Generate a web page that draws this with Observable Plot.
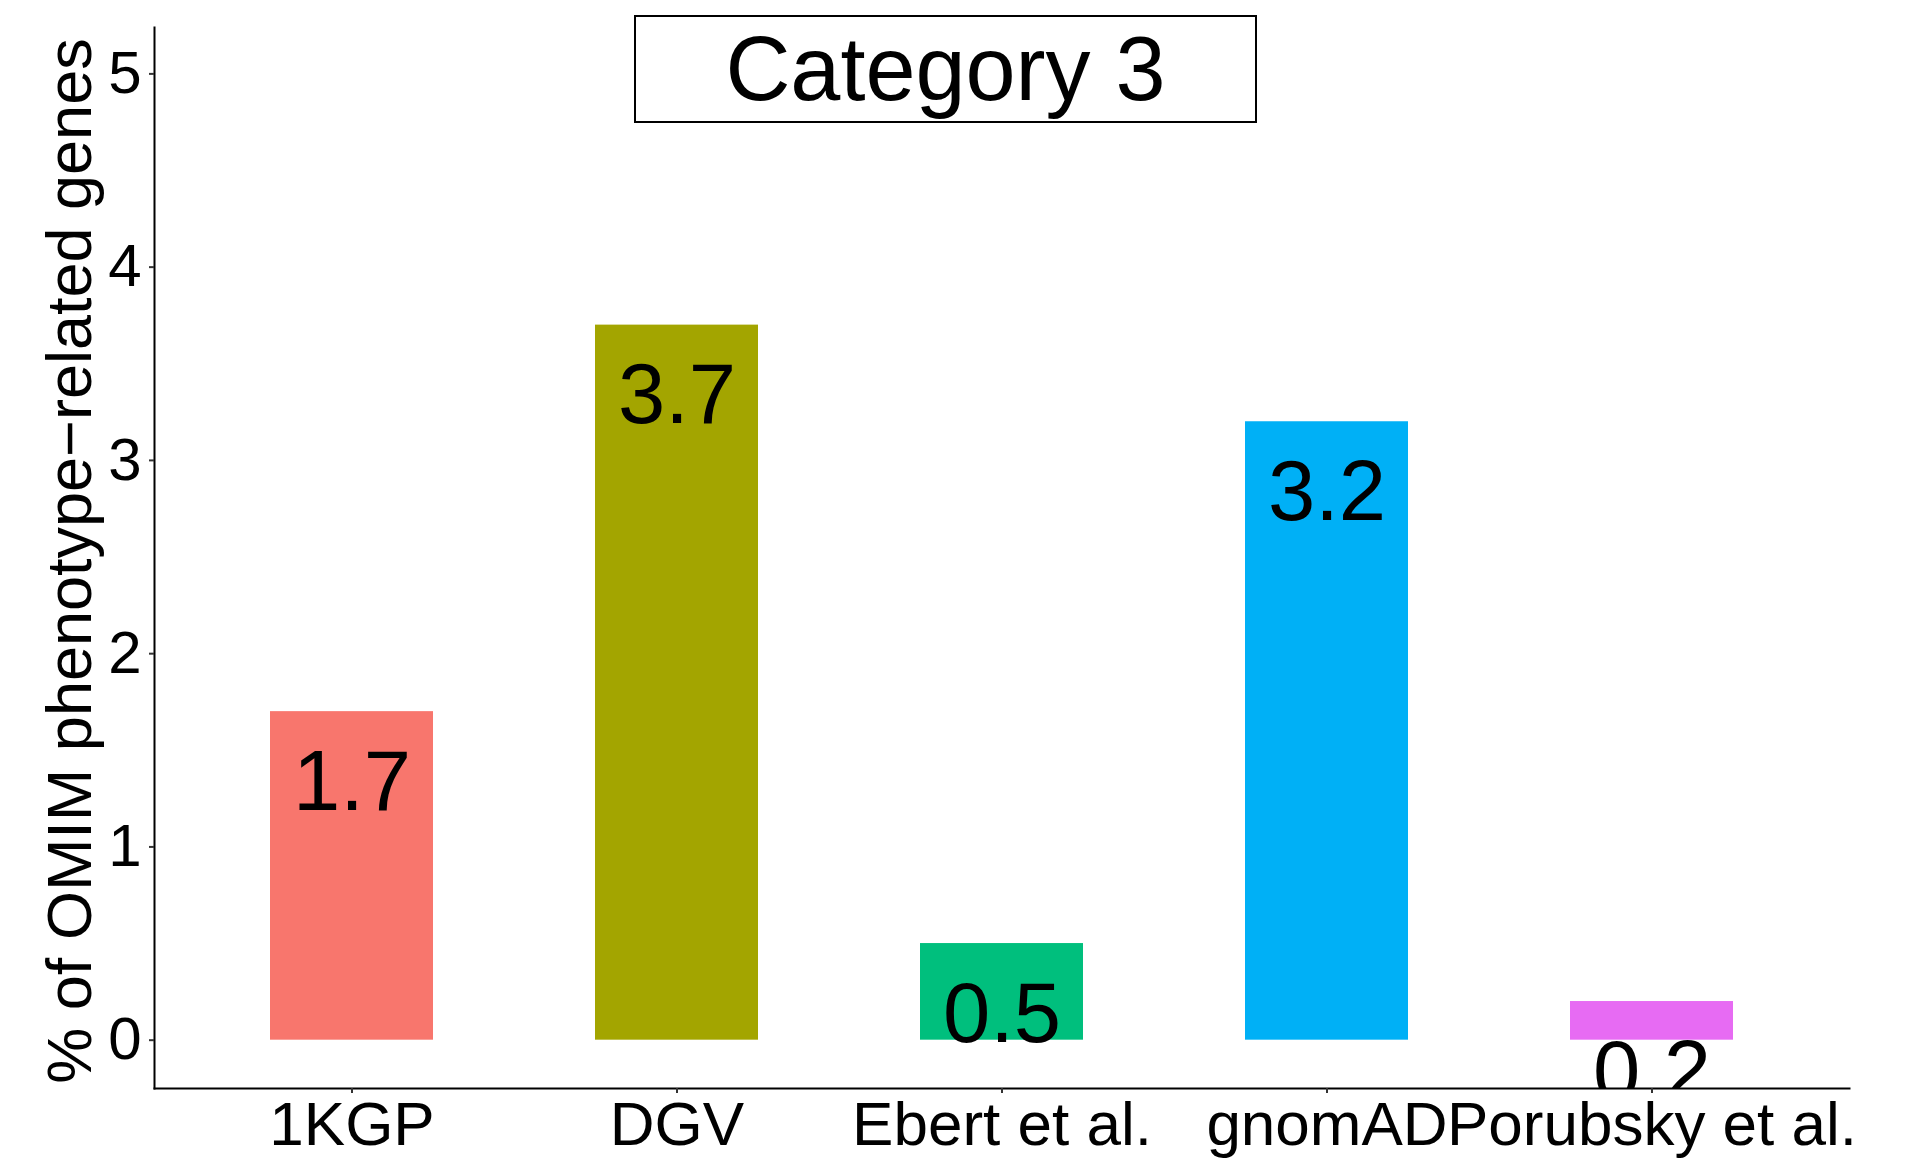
<!DOCTYPE html>
<html>
<head>
<meta charset="utf-8">
<script src="https://cdn.jsdelivr.net/npm/d3@7"></script>
<script src="https://cdn.jsdelivr.net/npm/@observablehq/plot@0.6"></script>
<style>
  html, body { margin: 0; padding: 0; background: #fff; }
  #wrap { position: relative; width: 1905px; height: 1167px; }
  #title {
    position: absolute; left: 634px; top: 15px; width: 619px; height: 104px;
    border: 2.5px solid #000; background: #fff;
    font-family: "Liberation Sans", Arial, Helvetica, sans-serif;
    font-size: 90px; line-height: 104px; text-align: center; color: #000;
  }
</style>
</head>
<body>
<div id="wrap"><div id="title">Category 3</div></div>
<script>
const categories = ["1KGP", "DGV", "Ebert et al.", "gnomAD", "Porubsky et al."];
const values = [1.7, 3.7, 0.5, 3.2, 0.2];
const barColors = ["#F8766D", "#A3A500", "#00BF7D", "#00B0F6", "#E76BF3"];
const yTicks = [0, 1, 2, 3, 4, 5];
const yTitle = "% of OMIM phenotype\u2212related genes";

const data = categories.map((c, i) => ({cat: c, v: values[i], label: String(values[i])}));

const chart = Plot.plot({
  width: 1905,
  height: 1167,
  marginLeft: 154,
  marginRight: 56,
  marginTop: 27,
  marginBottom: 79,
  style: {fontFamily: "'Liberation Sans', Arial, Helvetica, sans-serif", fontSize: "62px", background: "#fff", color: "#000"},
  x: {type: "band", domain: categories, paddingInner: 0.5, paddingOuter: 0.35, align: 0.5, label: null},
  y: {domain: [-0.25, 5.24], label: null},
  color: {domain: categories, range: barColors},
  marks: [
    Plot.barY(data, {x: "cat", y: "v", fill: "cat"}),
    Plot.text(data, {x: "cat", y: "v", text: "label", fontSize: 85, fill: "#000", lineAnchor: "bottom", dy: 98, clip: true}),
    Plot.frame({anchor: "left", stroke: "#000", strokeWidth: 2}),
    Plot.frame({anchor: "bottom", stroke: "#000", strokeWidth: 2}),
    Plot.axisY(yTicks, {tickSize: 5, tickPadding: 8, tickFormat: d => String(d), fontSize: 60, stroke: "#333", strokeWidth: 2, fill: "#000", label: null}),
    Plot.axisX({tickSize: 5, tickPadding: 7, fontSize: 62, stroke: "#333", strokeWidth: 2, fill: "#000", label: null}),
    Plot.text([yTitle], {frameAnchor: "left", rotate: -90, dx: -64, dy: 3, fontSize: 63, lineAnchor: "bottom", textAnchor: "middle", fill: "#000"})
  ]
});
document.getElementById("wrap").insertBefore(chart, document.getElementById("title"));
chart.style.position = "absolute";
chart.style.left = "0px";
chart.style.top = "0px";
</script>
</body>
</html>
